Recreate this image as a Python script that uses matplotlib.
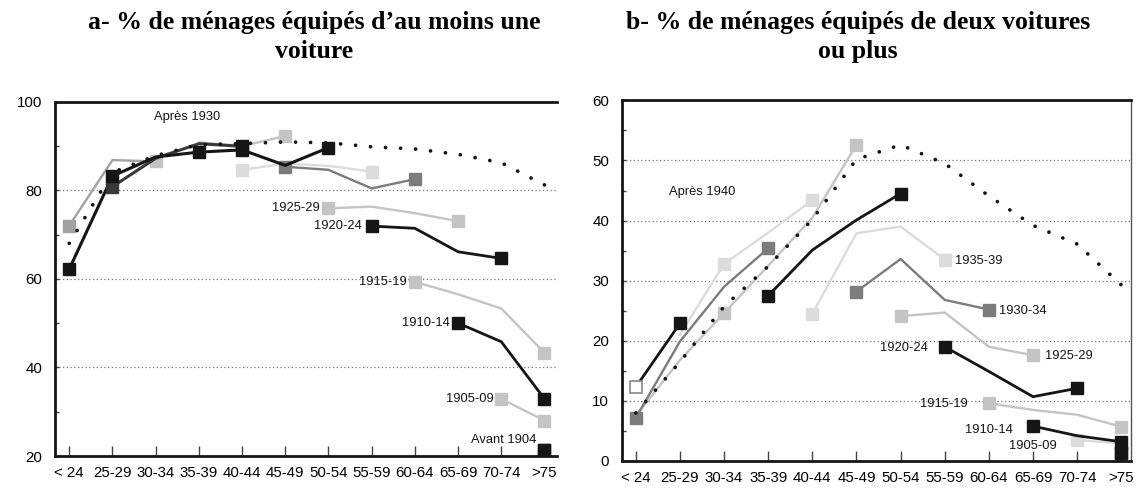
import matplotlib
matplotlib.use("Agg")
import matplotlib.pyplot as plt
from matplotlib.ticker import MultipleLocator

plt.rcParams['font.family'] = ['Liberation Sans', 'DejaVu Sans']

# ---------------- data ----------------
age_groups = ["< 24", "25-29", "30-34", "35-39", "40-44", "45-49", "50-54",
              "55-59", "60-64", "65-69", "70-74", ">75"]

# Panel a : % households with at least one car
a_cross = [68.0, 84.0, 87.8, 90.3, 90.5, 90.9, 90.7, 89.8, 89.3, 88.1, 86.2, 81.2]

a_y7_idx = [4, 5, 6, 7];     a_y7 = [84.6, 86.0, 85.5, 84.2]
a_y5_idx = [3, 4, 5];        a_y5 = [90.8, 90.0, 92.2]
a_y1_idx = [0, 1, 2];        a_y1 = [72.0, 86.8, 86.5]
a_y6_idx = [5, 6, 7, 8];     a_y6 = [85.3, 84.6, 80.4, 82.5]
a_y3_idx = [1, 2, 3, 4];     a_y3 = [80.8, 87.2, 90.5, 89.9]
a_y2_idx = [0, 1, 2, 3];     a_y2 = [62.2, 83.2, 87.5, 88.6]
a_y4_idx = [3, 4, 5, 6];     a_y4 = [88.6, 89.1, 85.6, 89.6]
a_1925_idx = [6, 7, 8, 9];   a_1925 = [75.9, 76.3, 74.8, 73.0]
a_1920_idx = [7, 8, 9, 10];  a_1920 = [71.9, 71.4, 66.1, 64.6]
a_1915_idx = [8, 9, 10, 11]; a_1915 = [59.3, 56.5, 53.3, 43.3]
a_1910_idx = [9, 10, 11];    a_1910 = [50.0, 45.8, 32.9]
a_1905_idx = [10, 11];       a_1905 = [32.9, 28.0]
a_1904_idx = [11];           a_1904 = [21.4]

# Panel b : % households with two cars or more
b_cross = [8.0, 16.5, 25.7, 32.4, 40.2, 50.2, 52.6, 49.5, 44.1, 39.2, 36.1, 29.3]

b_y4_idx = [1, 2, 3, 4];       b_y4 = [21.0, 32.8, 38.0, 43.4]
b_y3_idx = [0, 1, 2, 3, 4, 5]; b_y3 = [7.5, 16.8, 24.6, 32.5, 40.5, 52.6]
b_y2_idx = [0, 1, 2, 3];       b_y2 = [7.2, 19.9, 29.0, 35.4]
b_y1_idx = [0, 1];             b_y1 = [12.3, 22.9]
b_1940_idx = [3, 4, 5, 6];     b_1940 = [27.5, 35.1, 40.1, 44.5]
b_1935_idx = [4, 5, 6, 7];     b_1935 = [24.5, 37.9, 39.0, 33.5]
b_1930_idx = [5, 6, 7, 8];     b_1930 = [28.2, 33.6, 26.8, 25.2]
b_1925_idx = [6, 7, 8, 9];     b_1925 = [24.1, 24.7, 19.0, 17.6]
b_1920_idx = [7, 8, 9, 10];    b_1920 = [19.0, 14.9, 10.7, 12.1]
b_1915_idx = [8, 9, 10, 11];   b_1915 = [9.6, 8.5, 7.7, 5.7]
b_1910_idx = [9, 10, 11];      b_1910 = [5.8, 4.2, 3.2]
b_1905_idx = [10, 11];         b_1905 = [3.5, 2.9]
b_1904_idx = [11];             b_1904 = [1.4]

title_a = "a- % de ménages équipés d’au moins une\nvoiture"
title_b = "b- % de ménages équipés de deux voitures\nou plus"

# ---------------- styles ----------------
BLACK = "#151515"
DARK = "#3a3a3a"
GRAY = "#7c7c7c"
MID = "#a2a2a2"
LIGHT = "#c4c4c4"
VLIGHT = "#dcdcdc"

W, H = 1136, 488
fig = plt.figure(figsize=(W / 100, H / 100), dpi=100)
fig.patch.set_facecolor("white")

ax_a = fig.add_axes([55 / W, 1 - 456 / H, (557 - 55) / W, (456 - 101.6) / H])
ax_b = fig.add_axes([621.7 / W, 1 - 461 / H, (1131 - 621.7) / W, (461 - 100.4) / H])

MS = 9.0


def cohort(ax, idx, vals, color, lw=1.7, marks=(0, -1), mcolor=None, mfaces=None, z=3):
    ax.plot(idx, vals, color=color, lw=lw, solid_joinstyle="round", zorder=z)
    for k, m in enumerate(marks):
        fc = color if mcolor is None else mcolor
        if mfaces is not None:
            fc = mfaces[k]
        ax.plot([idx[m]], [vals[m]], marker="s", ms=MS, color=fc, mec=fc,
                ls="none", zorder=z + 0.5)


def style_axes(ax, ymin, ymax, ymaj, ymin_step, xr, right_spine):
    ax.set_xlim(*xr)
    ax.set_ylim(ymin, ymax)
    ax.set_xticks(range(len(age_groups)))
    ax.set_xticklabels(age_groups)
    ax.yaxis.set_major_locator(MultipleLocator(ymaj))
    ax.yaxis.set_minor_locator(MultipleLocator(ymin_step))
    ax.tick_params(axis="x", direction="in", length=7, width=1.0, color="#444",
                   labelsize=10.8, pad=7)
    ax.tick_params(axis="y", which="major", direction="in", length=3, width=1.0,
                   color="#444", labelsize=10.8, pad=9)
    ax.tick_params(axis="y", which="minor", direction="in", length=3, width=1.0,
                   color="#444")
    for s in ("left", "bottom", "top"):
        ax.spines[s].set_linewidth(2.0)
        ax.spines[s].set_color(BLACK)
    if right_spine:
        ax.spines["right"].set_linewidth(1.0)
        ax.spines["right"].set_color("#555")
    else:
        ax.spines["right"].set_visible(False)
    for v in range(int(ymin + ymaj), int(ymax), int(ymaj)):
        ax.axhline(v, color="#777", lw=0.9, ls=(0, (1, 2)), zorder=1)


def label(ax, text, idx, val, dx, dy, ha):
    ax.annotate(text, xy=(idx, val), xytext=(dx * 0.72, dy * 0.72),
                textcoords="offset points", ha=ha, va="center",
                fontsize=9.3, color=BLACK, zorder=6)


# ---------------- panel a ----------------
ax = ax_a
style_axes(ax, 20, 100, 20, 10, (-0.33, 11.29), False)
ax.plot(range(len(a_cross)), a_cross, color=BLACK, lw=2.7,
        ls=(0, (0.01, 4.0)), dash_capstyle="round", zorder=4)

cohort(ax, a_y7_idx, a_y7, VLIGHT, z=2)
cohort(ax, a_y5_idx, a_y5, LIGHT, marks=(-1,), z=2)
cohort(ax, a_y1_idx, a_y1, MID, mfaces=[MID, LIGHT], z=2.2)
cohort(ax, a_y6_idx, a_y6, GRAY, z=2.4)
cohort(ax, a_y3_idx, a_y3, DARK, lw=2.2, mfaces=[DARK, BLACK], z=3)
cohort(ax, a_y2_idx, a_y2, BLACK, lw=2.2, marks=(0, 1, -1), z=3.2)
cohort(ax, a_y4_idx, a_y4, BLACK, lw=2.2, marks=(1, -1), z=3.4)
cohort(ax, a_1925_idx, a_1925, LIGHT, z=2)
cohort(ax, a_1920_idx, a_1920, BLACK, lw=2.0, z=3)
cohort(ax, a_1915_idx, a_1915, LIGHT, z=2)
cohort(ax, a_1910_idx, a_1910, BLACK, lw=2.0, z=3)
cohort(ax, a_1905_idx, a_1905, LIGHT, z=2)
cohort(ax, a_1904_idx, a_1904, BLACK, z=3)

ax.text(2.72, 96.5, "Après 1930", ha="center", va="center", fontsize=9.3, color=BLACK)
label(ax, "1925-29", a_1925_idx[0], a_1925[0], -9, 0, "right")
label(ax, "1920-24", a_1920_idx[0], a_1920[0], -10, 0, "right")
label(ax, "1915-19", a_1915_idx[0], a_1915[0], -8, 0, "right")
label(ax, "1910-14", a_1910_idx[0], a_1910[0], -8, 0, "right")
label(ax, "1905-09", a_1905_idx[0], a_1905[0], -8, 0, "right")
label(ax, "Avant 1904", a_1904_idx[0], a_1904[0], -8, 10, "right")

# ---------------- panel b ----------------
ax = ax_b
style_axes(ax, 0, 60, 10, 5, (-0.32, 11.22), True)
ax.plot(range(len(b_cross)), b_cross, color=BLACK, lw=2.7,
        ls=(0, (0.01, 4.0)), dash_capstyle="round", zorder=4)

cohort(ax, b_y4_idx, b_y4, VLIGHT, marks=(1, -1), z=2)
cohort(ax, b_y3_idx, b_y3, LIGHT, marks=(2, -1), z=2.2)
cohort(ax, b_y2_idx, b_y2, GRAY, z=2.4)
ax.plot(b_y1_idx, b_y1, color=BLACK, lw=2.0, zorder=3)
ax.plot([b_y1_idx[0]], [b_y1[0]], marker="s", ms=MS, mfc="white", mec="#888",
        mew=1.2, ls="none", zorder=3.5)
ax.plot([b_y1_idx[1]], [b_y1[1]], marker="s", ms=MS, color=BLACK, ls="none", zorder=3.5)
cohort(ax, b_1940_idx, b_1940, BLACK, lw=2.0, z=3)
cohort(ax, b_1935_idx, b_1935, VLIGHT, z=2)
cohort(ax, b_1930_idx, b_1930, GRAY, z=2.4)
cohort(ax, b_1925_idx, b_1925, LIGHT, z=2)
cohort(ax, b_1920_idx, b_1920, BLACK, lw=2.0, z=3)
cohort(ax, b_1915_idx, b_1915, LIGHT, z=2)
cohort(ax, b_1910_idx, b_1910, BLACK, lw=2.0, z=3)
cohort(ax, b_1905_idx, b_1905, VLIGHT, z=2.1)
cohort(ax, b_1904_idx, b_1904, BLACK, z=3)

ax.text(1.51, 44.8, "Après 1940", ha="center", va="center", fontsize=9.3, color=BLACK)
label(ax, "1935-39", b_1935_idx[-1], b_1935[-1], 10, -1, "left")
label(ax, "1930-34", b_1930_idx[-1], b_1930[-1], 10, -1, "left")
label(ax, "1925-29", b_1925_idx[-1], b_1925[-1], 12, -1, "left")
label(ax, "1920-24", b_1920_idx[0], b_1920[0], -17, -1, "right")
label(ax, "1915-19", b_1915_idx[0], b_1915[0], -21, -1, "right")
label(ax, "1910-14", b_1910_idx[0], b_1910[0], -20, -4, "right")
label(ax, "1905-09", b_1905_idx[0], b_1905[0], -20, -6, "right")

# ---------------- titles ----------------
for x, t in ((314 / W, title_a), (858 / W, title_b)):
    fig.text(x, 1 - 37 / H, t, ha="center", va="center", fontsize=18.5,
             fontweight="bold", family="Liberation Serif", linespacing=1.32,
             color="black")

fig.savefig("out.png", dpi=100, facecolor="white")
